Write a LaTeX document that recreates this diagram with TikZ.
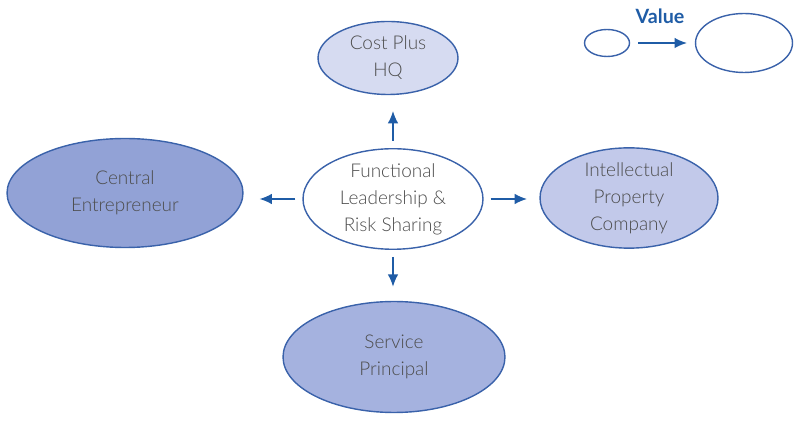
\documentclass[tikz,border=0pt]{standalone}
\usepackage{fontspec}
\setmainfont{Lato Light}[BoldFont=Lato Bold]
\usepackage{tikz}
\usetikzlibrary{shapes.geometric,arrows.meta}
\definecolor{lineblue}{HTML}{3A62AA}
\definecolor{arrowblue}{HTML}{1F5CA6}
\definecolor{textgray}{HTML}{4D4D4D}
\definecolor{fillpale}{HTML}{D6DBF1}
\definecolor{filllight}{HTML}{C2C9EA}
\definecolor{fillmid}{HTML}{A5B2DF}
\definecolor{filldark}{HTML}{92A2D6}

\begin{document}
\begin{tikzpicture}[x=0.02cm, y=-0.02cm,
node_style/.style={ellipse, draw=lineblue, line width=0.8pt, inner sep=0pt, align=center,
  text=textgray, font=\fontsize{10.8}{15.3}\selectfont},
edge_style/.style={draw=arrowblue, line width=0.9pt, -{Latex[length=7pt,width=6pt]}}]
\useasboundingbox (0,0) rectangle (800,421);
\node[node_style, fill=fillpale, minimum width=2.8cm, minimum height=1.46cm] (cost) at (388,58) {Cost Plus\\HQ};
\node[node_style, fill=filldark, minimum width=4.72cm, minimum height=2.18cm] (central) at (125,193) {Central\\Entrepreneur};
\node[node_style, fill=white, minimum width=3.6cm, minimum height=1.76cm] (func) at (393,199) {Functional\\Leadership \&\\Risk Sharing};
\node[node_style, fill=filllight, minimum width=3.56cm, minimum height=1.94cm] (ip) at (629,198) {Intellectual\\Property\\Company};
\node[node_style, fill=fillmid, minimum width=4.44cm, minimum height=2.22cm] (service) at (394,357) {Service\\Principal};

\node[node_style, minimum width=0.9cm, minimum height=0.54cm] (small) at (607,43) {};
\node[node_style, minimum width=1.94cm, minimum height=1.18cm] (big) at (744,43) {};
\node[font=\bfseries\fontsize{11.2}{13}\selectfont, text=arrowblue] (value) at (660,16) {Value};

\draw[edge_style, shorten <=4.5pt, shorten >=4.5pt] (small) -- (big);
\draw[edge_style, shorten <=4pt, shorten >=9pt] (func.north) -- (func.north |- cost.south);
\draw[edge_style, shorten <=4pt, shorten >=9pt] (func.west) -- (func.west -| central.east);
\draw[edge_style, shorten <=4pt, shorten >=7pt] (func.east) -- (func.east -| ip.west);
\draw[edge_style, shorten <=4pt, shorten >=8pt] (func.south) -- (func.south |- service.north);
\end{tikzpicture}
\end{document}
